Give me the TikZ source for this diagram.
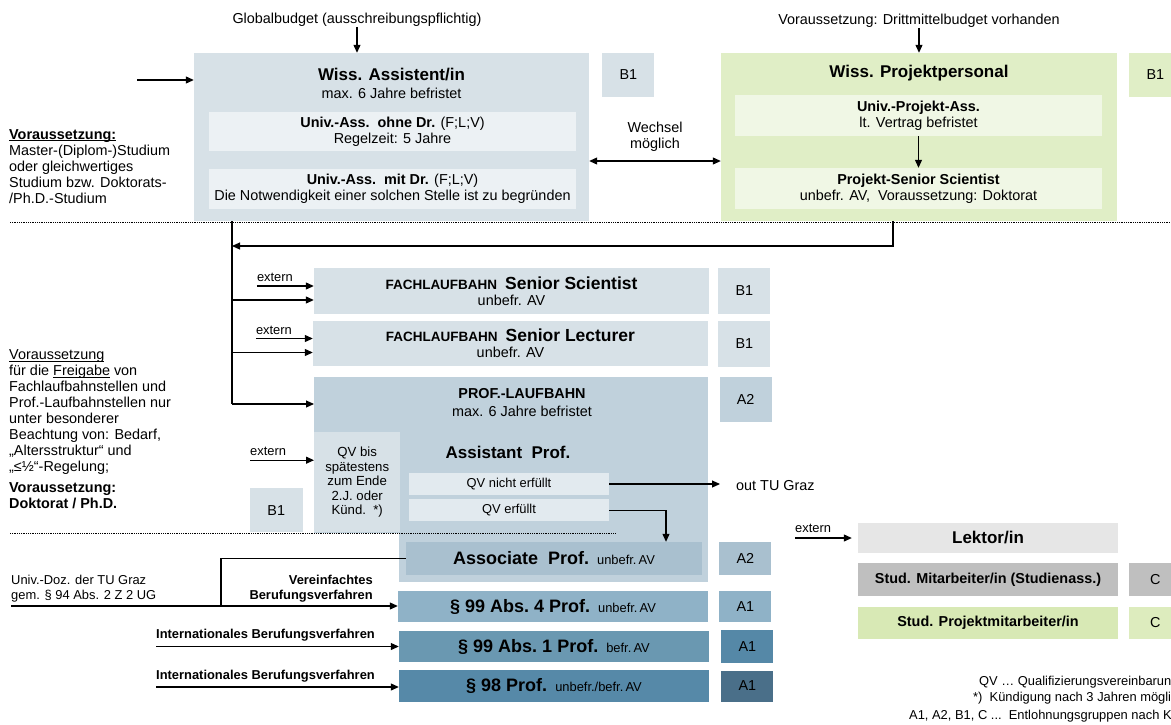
\documentclass[tikz,border=0pt]{standalone}
\usepackage{fontspec}
\setmainfont{Liberation Sans}
\usetikzlibrary{arrows.meta,positioning,calc}

\definecolor{wasbg}{RGB}{215,225,231}
\definecolor{wasin}{RGB}{236,241,244}
\definecolor{prjbg}{RGB}{224,238,198}
\definecolor{prjin}{RGB}{240,247,229}
\definecolor{profbg}{RGB}{192,209,220}
\definecolor{qvbg}{RGB}{226,234,239}
\definecolor{assocbg}{RGB}{169,192,207}
\definecolor{ninefour}{RGB}{143,178,199}
\definecolor{nineone}{RGB}{106,152,177}
\definecolor{aonedark}{RGB}{85,136,167}
\definecolor{nineeight}{RGB}{86,137,168}
\definecolor{aonedarker}{RGB}{74,111,137}
\definecolor{lekbg}{RGB}{230,230,230}
\definecolor{studbg}{RGB}{191,191,191}
\definecolor{studgrn}{RGB}{216,233,181}
\definecolor{studgrnc}{RGB}{221,236,190}

\newcommand\fnorm{\fontsize{14.4}{16}\selectfont}
\newcommand\fsmall{\fontsize{12.9}{15}\selectfont}
\newcommand\fbig{\fontsize{17}{20}\selectfont\bfseries}
\newcommand\fhuge{\fontsize{18}{21}\selectfont\bfseries}
\newcommand\undl[1]{\setbox0\hbox{#1}\rlap{\rule[-1.8pt]{\wd0}{0.7pt}}\box0\relax}

\tikzset{
  blk/.style={rectangle,inner sep=0pt,align=center,font=\fnorm},
  wasblk/.style={blk,fill=wasbg},
  wasinblk/.style={blk,fill=wasin},
  prjblk/.style={blk,fill=prjbg},
  prjinblk/.style={blk,fill=prjin},
  grpblk/.style={blk,minimum width=52pt,font=\fontsize{14.4}{16}\selectfont},
  lbl/.style={inner sep=0pt,align=center,font=\fnorm},
  conn/.style={line width=1.1pt},
  arr/.style={conn,-{Triangle[length=8pt,width=7pt]}},
  dblarr/.style={conn,{Triangle[length=8pt,width=7pt]}-{Triangle[length=8pt,width=7pt]}},
  dotline/.style={densely dotted,line width=0.8pt}
}

\begin{document}
\begin{tikzpicture}[x=1pt,y=-1pt]
  \path[use as bounding box,fill=white] (0,0) rectangle (1171,724);

  % top: wiss. assistent / projektpersonal
  \node[wasblk,minimum width=395pt,minimum height=168pt] (wa) at (391.5,137) {};
  \node[lbl] (wat) at (391.5,75) {\fbig Wiss. Assistent/in};
  \node[lbl] (was) at (391.5,93) {max. 6 Jahre befristet};
  \node[wasinblk,minimum width=367pt,minimum height=39pt] (wa1) at (392.5,131.5)
    {\textbf{Univ.-Ass.\ \ ohne Dr.} (F;L;V)\\Regelzeit: 5 Jahre};
  \node[wasinblk,minimum width=367pt,minimum height=40pt] (wa2) at (392.5,189)
    {\textbf{Univ.-Ass.\ \ mit Dr.} (F;L;V)\\Die Notwendigkeit einer solchen Stelle ist zu begründen};
  \node[grpblk,fill=wasbg,minimum height=44pt,right=13pt of wa.north east,anchor=north west] (b1a) {B1};

  \node[prjblk,minimum width=396pt,minimum height=168pt] (wp) at (919,137) {};
  \node[lbl] (wpt) at (919,73) {\fbig Wiss. Projektpersonal};
  \node[prjinblk,minimum width=367pt,minimum height=41pt] (wp1) at (918.5,115.5)
    {\textbf{Univ.-Projekt-Ass.}\\lt. Vertrag befristet};
  \node[prjinblk,minimum width=367pt,minimum height=41pt] (wp2) at (918.5,188.5)
    {\textbf{Projekt-Senior Scientist}\\unbefr. AV,\ \ Voraussetzung: Doktorat};
  \node[grpblk,fill=prjbg,minimum height=44pt,right=12pt of wp.north east,anchor=north west] (b1p) {B1};

  \node[lbl] (gb) at (357,20) {Globalbudget (ausschreibungspflichtig)};
  \node[lbl] (dm) at (919,21) {Voraussetzung: Drittmittelbudget vorhanden};
  \node[lbl] (wm) at (655,136.5) {Wechsel\\möglich};
  \coordinate (win) at (137,80);

  \draw[arr] (gb) -- (gb |- wa.north);
  \draw[arr] (dm) -- (dm |- wp.north);
  \draw[arr] (win) -- (win -| wa.west);
  \draw[arr] (wp1) -- (wp2);
  \draw[dblarr] ($(wa.east)+(0,24)$) -- ($(wp.west)+(0,24)$);

  \node[lbl,anchor=west,align=left] (vor1) at (9,166.5)
    {\undl{\textbf{Voraussetzung:}}\\Master-(Diplom-)Studium\\oder gleichwertiges\\Studium bzw. Doktorats-\\/Ph.D.-Studium};

  \draw[dotline] (10,222) -- (1171,222);

  % laufbahnstellen
  \node[blk,fill=wasbg,minimum width=395pt,minimum height=46pt] (ss) at (511.5,291)
    {{\fontsize{13.5}{16}\selectfont\bfseries FACHLAUFBAHN}\ \ {\fontsize{17.5}{20}\selectfont\bfseries Senior Scientist}\\unbefr. AV};
  \node[grpblk,fill=wasbg,minimum height=46pt,right=9pt of ss] (b1s) {B1};
  \node[blk,fill=wasbg,minimum width=395pt,minimum height=45pt] (sl) at (510.5,343.5)
    {{\fontsize{13.5}{16}\selectfont\bfseries FACHLAUFBAHN}\ \ {\fontsize{17.5}{20}\selectfont\bfseries Senior Lecturer}\\unbefr. AV};
  \node[grpblk,fill=wasbg,minimum height=46pt,right=10pt of sl] (b1l) {B1};

  \node[blk,fill=profbg,minimum width=394pt,minimum height=156pt,anchor=north west] (prof) at (314,377) {};
  \node[blk,fill=profbg,minimum width=309pt,minimum height=52pt,anchor=north west] (profl) at (399,530) {};
  \node[lbl] (pft) at (522,394) {\bfseries PROF.-LAUFBAHN};
  \node[lbl] (pfs) at (522,411) {max. 6 Jahre befristet};
  \node[grpblk,fill=profbg,minimum height=45pt,right=11pt of prof.north east,anchor=north west] (a2p) {A2};

  \node[blk,fill=wasbg,minimum width=86pt,minimum height=100pt,anchor=north west,
    font=\fontsize{13.2}{14.5}\selectfont] (qvb) at (314,432) {QV bis\\spätestens\\zum Ende\\2.J. oder\\Künd.\ \ *)};
  \node[grpblk,fill=wasbg,minimum width=53pt,minimum height=44pt,left=11pt of qvb.south west,anchor=south east] (b1q) {B1};
  \node[lbl] (asst) at (508,452) {\fbig Assistant\ \ Prof.};
  \node[blk,fill=qvbg,minimum width=200pt,minimum height=22pt,font=\fsmall] (qvn) at (509,484) {QV nicht erfüllt};
  \node[blk,fill=qvbg,minimum width=200pt,minimum height=22pt,font=\fsmall,below=4pt of qvn] (qve) {QV erfüllt};
  \node[lbl,anchor=west] (out) at (736,486) {out TU Graz};

  \node[blk,fill=assocbg,minimum width=296pt,minimum height=33pt] (asp) at (554,558.5)
    {{\fhuge Associate\ \ Prof.}\ \ {\fsmall unbefr.\,AV}};
  \node[grpblk,fill=assocbg,minimum height=33pt,right=17pt of asp] (a2a) {A2};
  \node[blk,fill=ninefour,minimum width=310pt,minimum height=31pt] (p994) at (553,606.5)
    {{\fhuge § 99 Abs.\ 4 Prof.}\ \ {\fsmall unbefr.\,AV}};
  \node[grpblk,fill=ninefour,minimum height=31pt,right=11pt of p994] (a1a) {A1};
  \node[blk,fill=nineone,minimum width=310pt,minimum height=31pt] (p991) at (554,646.5)
    {{\fhuge § 99 Abs.\ 1 Prof.}\ \ {\fsmall befr.\,AV}};
  \node[grpblk,fill=aonedark,minimum height=33pt,right=12pt of p991] (a1b) {A1};
  \node[blk,fill=nineeight,minimum width=310pt,minimum height=32pt] (p98) at (554,686)
    {{\fhuge § 98 Prof.}\ \ {\fsmall unbefr./befr.\,AV}};
  \node[grpblk,fill=aonedarker,minimum height=31pt,right=12pt of p98] (a1c) {A1};

  \draw[dotline] (10,533) -- (616,533);

  % zugaenge
  \coordinate (trunk) at (232,246);
  \coordinate (tend) at (232,404);
  \draw[conn] (wa.south -| trunk) -- (tend);
  \draw[arr] ($(wp.south)+(-26,0)$) |- (trunk);
  \foreach \n in {ss,sl}{
    \coordinate (in\n) at ($(\n.west)+(0,9)$);
    \coordinate (ex\n) at ($(\n.west)+(0,-5)$);
    \node[lbl,anchor=south west,font=\fsmall] (lb\n) at ($(ex\n)+(-57,-4)$) {extern};
    \draw[arr] (trunk |- in\n) -- (in\n);
    \draw[arr] (lb\n.south west |- ex\n) -- (ex\n);
  }
  \draw[arr] (tend) -- (tend -| prof.west);
  \coordinate (exq) at ($(qvb.west)+(0,-22)$);
  \node[lbl,anchor=south west,font=\fsmall] (lbq) at ($(exq)+(-64,-4)$) {extern};
  \draw[arr] (lbq.south west |- exq) -- (exq);

  \draw[arr,shorten >=16pt] (qvn.east) -- (qvn.east -| out.west);
  \draw[arr] (qve.east) -| ($(asp.north)+(112,0)$);

  \node[lbl,anchor=west,align=left] (vor2) at (9,412)
    {\undl{Voraussetzung}\\für die \undl{Freigabe} von\\Fachlaufbahnstellen und\\Prof.-Laufbahnstellen nur\\unter besonderer\\Beachtung von: Bedarf,\\„Altersstruktur“ und\\„≤½“-Regelung;};
  \node[lbl,anchor=west,align=left,font=\fnorm\bfseries] (vor3) at (9,496) {Voraussetzung:\\Doktorat / Ph.D.};

  % berufungen
  \coordinate (doz) at (11,606);
  \coordinate (mrg) at (221,606);
  \node[lbl,anchor=south west,align=left,font=\fsmall] (dozt) at (11,602)
    {Univ.-Doz. der TU Graz\\gem. § 94 Abs. 2 Z 2 UG};
  \node[lbl,anchor=south east,align=right,font=\fsmall\bfseries] (vbv) at (373,602)
    {Vereinfachtes\\Berufungsverfahren};
  \draw[arr] (doz) -- (doz -| p994.west);
  \draw[conn] (asp.west) -| (mrg);
  \foreach \n/\p/\y in {ia/p991/646.5, ib/p98/687}{
    \coordinate (\n) at (156,\y);
    \node[lbl,anchor=south west,font=\fsmall\bfseries] (t\n) at ($(\n)+(0,-5)$) {Internationales Berufungsverfahren};
    \draw[arr] (\n) -- (\n -| \p.west);
  }

  % lektor / studierende
  \node[blk,fill=lekbg,minimum width=260pt,minimum height=30pt] (lek) at (988,538) {\fbig Lektor/in};
  \node[blk,fill=studbg,minimum width=260pt,minimum height=33pt,below=10pt of lek,font=\fnorm\bfseries] (stm)
    {Stud. Mitarbeiter/in (Studienass.)};
  \node[blk,fill=studgrn,minimum width=260pt,minimum height=32pt,below=10pt of stm,font=\fnorm\bfseries] (stp)
    {Stud. Projektmitarbeiter/in};
  \node[grpblk,fill=studbg,minimum height=33pt,right=11pt of stm] (cm) {C};
  \node[grpblk,fill=studgrnc,minimum height=32pt,right=11pt of stp] (cp) {C};
  \node[lbl,anchor=south west,font=\fsmall] (lbl) at (795,533) {extern};
  \draw[arr,shorten >=6pt] (lbl.south west |- lek) -- (lek.west);

  \node[lbl,anchor=west,font=\fsmall] (lg1) at (979,682) {QV … Qualifizierungsvereinbarung};
  \node[lbl,anchor=west,font=\fsmall] (lg2) at (973,698) {*)\ \ Kündigung nach 3 Jahren möglich};
  \node[lbl,anchor=west,font=\fsmall] (lg3) at (909,716) {A1, A2, B1, C ...\ \ Entlohnungsgruppen nach KV};
\end{tikzpicture}
\end{document}
